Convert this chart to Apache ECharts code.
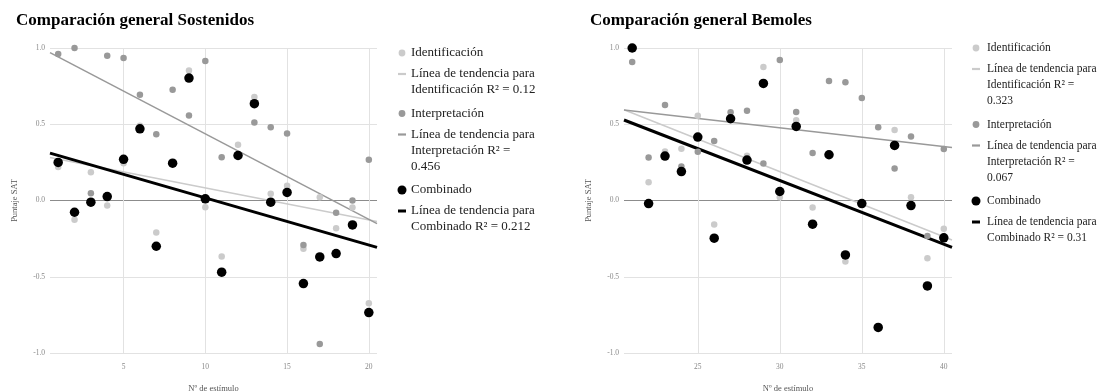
<!DOCTYPE html>
<html><head><meta charset="utf-8">
<script src="https://cdn.jsdelivr.net/npm/echarts@6/dist/echarts.min.js"></script>
<style>html,body{margin:0;padding:0;background:#fff}#c{width:1108px;height:392px}</style>
</head><body><div id="c"></div>
<script>
// ---- data ----
const titles = ['Comparación general Sostenidos', 'Comparación general Bemoles'];
const seriesNames = ['Identificación', 'Interpretación', 'Combinado'];
const xTitle = 'Nº de estímulo';
const yTitle = 'Puntaje SAT';

const xSost = [1,2,3,4,5,6,7,8,9,10,11,12,13,14,15,16,17,18,19,20];
const identSost  = [0.22,-0.127,0.186,-0.033,0.245,0.49,-0.21,0.245,0.853,-0.044,-0.368,0.365,0.678,0.044,0.096,-0.317,0.022,-0.182,-0.046,-0.674];
const interpSost = [0.96,1.0,0.048,0.95,0.934,0.694,0.435,0.726,0.558,0.915,0.284,0.29,0.512,0.481,0.44,-0.291,-0.941,-0.081,0.0,0.267];
const combSost   = [0.25,-0.077,-0.011,0.026,0.27,0.47,-0.30,0.245,0.803,0.011,-0.47,0.295,0.635,-0.011,0.053,-0.545,-0.37,-0.348,-0.16,-0.735];
const r2Sost = ['0.12', '0.456', '0.212'];

const xBem = [21,22,23,24,25,26,27,28,29,30,31,32,33,34,35,36,37,38,39,40];
const identBem  = [1.0,0.12,0.322,0.339,0.556,-0.158,0.55,0.293,0.875,0.022,0.527,-0.046,0.30,-0.40,-0.02,-0.83,0.462,0.022,-0.379,-0.186];
const interpBem = [0.908,0.282,0.626,0.223,0.319,0.39,0.578,0.589,0.243,0.921,0.58,0.311,0.783,0.775,0.672,0.481,0.21,0.42,-0.232,0.337];
const combBem   = [1.0,-0.02,0.291,0.19,0.416,-0.247,0.536,0.265,0.768,0.059,0.486,-0.155,0.30,-0.357,-0.02,-0.832,0.361,-0.033,-0.56,-0.245];
const r2Bem = ['0.323', '0.067', '0.31'];

const xTicksSost = [5,10,15,20];
const xTicksBem = [25,30,35,40];
const xRangeSost = [0.5, 20.5];
const xRangeBem = [20.5, 40.5];
const yRange = [-1, 1];
const yStep = 0.5;

// legend label lines (wrapping as in the original)
const legendSost = [
  ['Identificación'],
  ['Línea de tendencia para', 'Identificación R² = ' + r2Sost[0]],
  ['Interpretación'],
  ['Línea de tendencia para', 'Interpretación R² =', r2Sost[1]],
  ['Combinado'],
  ['Línea de tendencia para', 'Combinado R² = ' + r2Sost[2]]
];
const legendBem = [
  ['Identificación'],
  ['Línea de tendencia para', 'Identificación R² =', r2Bem[0]],
  ['Interpretación'],
  ['Línea de tendencia para', 'Interpretación R² =', r2Bem[1]],
  ['Combinado'],
  ['Línea de tendencia para', 'Combinado R² = ' + r2Bem[2]]
];

// ---- build ----
const FONT = '"Liberation Serif", "DejaVu Serif", serif';
const colors = ['#cbcbcb', '#999999', '#000000'];
const dotSize = [6.5, 6.5, 9.5];
const trendWidth = [1.5, 1.5, 3];

function fit(xs, ys) {
  const n = xs.length;
  const mx = xs.reduce((a, b) => a + b, 0) / n;
  const my = ys.reduce((a, b) => a + b, 0) / n;
  let sxy = 0, sxx = 0;
  for (let i = 0; i < n; i++) { sxy += (xs[i] - mx) * (ys[i] - my); sxx += (xs[i] - mx) ** 2; }
  const m = sxy / sxx;
  return x => my + m * (x - mx);
}

const charts = [
  { xs: xSost, ys: [identSost, interpSost, combSost], ticks: xTicksSost, range: xRangeSost, left: 50, width: 327, titleLeft: 11, legend: legendSost, iconX: 402, textX: 411, legendTop: 53, legendFont: 13 },
  { xs: xBem, ys: [identBem, interpBem, combBem], ticks: xTicksBem, range: xRangeBem, left: 624, width: 328, titleLeft: 585, legend: legendBem, iconX: 976, textX: 987, legendTop: 48, legendFont: 11.5 }
];

const grid = [], xAxis = [], yAxis = [], series = [], title = [], graphic = [];
charts.forEach((c, gi) => {
  title.push({ text: titles[gi], left: c.titleLeft, top: 7,
    textStyle: { fontFamily: FONT, fontSize: 17, fontWeight: 'bold', color: '#000' } });
  grid.push({ left: c.left, top: 48, width: c.width, height: 305, containLabel: false, outerBoundsMode: 'none' });
  xAxis.push({
    gridIndex: gi, type: 'value', min: c.range[0], max: c.range[1],
    name: xTitle, nameLocation: 'middle', nameGap: 31,
    nameTextStyle: { fontFamily: FONT, fontSize: 8.5, color: '#555' },
    axisLine: { show: false },
    axisTick: { show: false, customValues: c.ticks },
    axisLabel: { customValues: c.ticks, fontFamily: FONT, fontSize: 7.5, color: '#888', margin: 10 },
    splitLine: { show: true, lineStyle: { color: '#e2e2e2', width: 1 } }
  });
  yAxis.push({
    gridIndex: gi, type: 'value', min: yRange[0], max: yRange[1], interval: yStep,
    name: yTitle, nameLocation: 'middle', nameGap: 31,
    nameTextStyle: { fontFamily: FONT, fontSize: 8.5, color: '#555' },
    axisLine: { show: false }, axisTick: { show: false },
    axisLabel: { formatter: v => v.toFixed(1), fontFamily: FONT, fontSize: 7.5, color: '#888', margin: 5 },
    splitLine: { show: true, lineStyle: { color: ['#e2e2e2', '#e2e2e2', '#8c8c8c', '#e2e2e2', '#e2e2e2'], width: 1 } }
  });
  // trend lines
  c.ys.forEach((ys, si) => {
    const f = fit(c.xs, ys);
    series.push({
      type: 'line', xAxisIndex: gi, yAxisIndex: gi, name: 'trend' + si,
      data: [[c.range[0], f(c.range[0])], [c.range[1], f(c.range[1])]],
      showSymbol: false, symbol: 'none', silent: true, z: 1,
      lineStyle: { color: colors[si], width: trendWidth[si] }
    });
  });
  // points
  c.ys.forEach((ys, si) => {
    series.push({
      type: 'scatter', xAxisIndex: gi, yAxisIndex: gi, name: seriesNames[si],
      data: c.xs.map((x, i) => [x, ys[i]]),
      symbolSize: dotSize[si], z: 3 + si,
      itemStyle: { color: colors[si], opacity: 1 }
    });
  });
  // legend drawn as graphic
  let y = c.legendTop;
  c.legend.forEach((lines, li) => {
    const si = Math.floor(li / 2);
    const isTrend = li % 2 === 1;
    if (isTrend) {
      const h = si === 2 ? 3 : 2.2;
      graphic.push({ type: 'rect', shape: { x: c.iconX - 4, y: y - h / 2, width: 8, height: h }, style: { fill: colors[si] } });
    } else {
      graphic.push({ type: 'circle', shape: { cx: c.iconX, cy: y, r: si === 2 ? 4.5 : 3.4 }, style: { fill: colors[si] } });
    }
    graphic.push({ type: 'text', x: c.textX, y: y - 8,
      style: { text: lines.join('\n'), font: c.legendFont + 'px ' + FONT, fill: '#222', lineHeight: 16, verticalAlign: 'top', align: 'left' } });
    y += isTrend ? lines.length * 16 + 7.5 : 21;
  });
});

const chart = echarts.init(document.getElementById('c'), null, { renderer: 'canvas' });
chart.setOption({ animation: false, backgroundColor: '#fff', title, grid, xAxis, yAxis, series, graphic });
</script>
</body></html>
